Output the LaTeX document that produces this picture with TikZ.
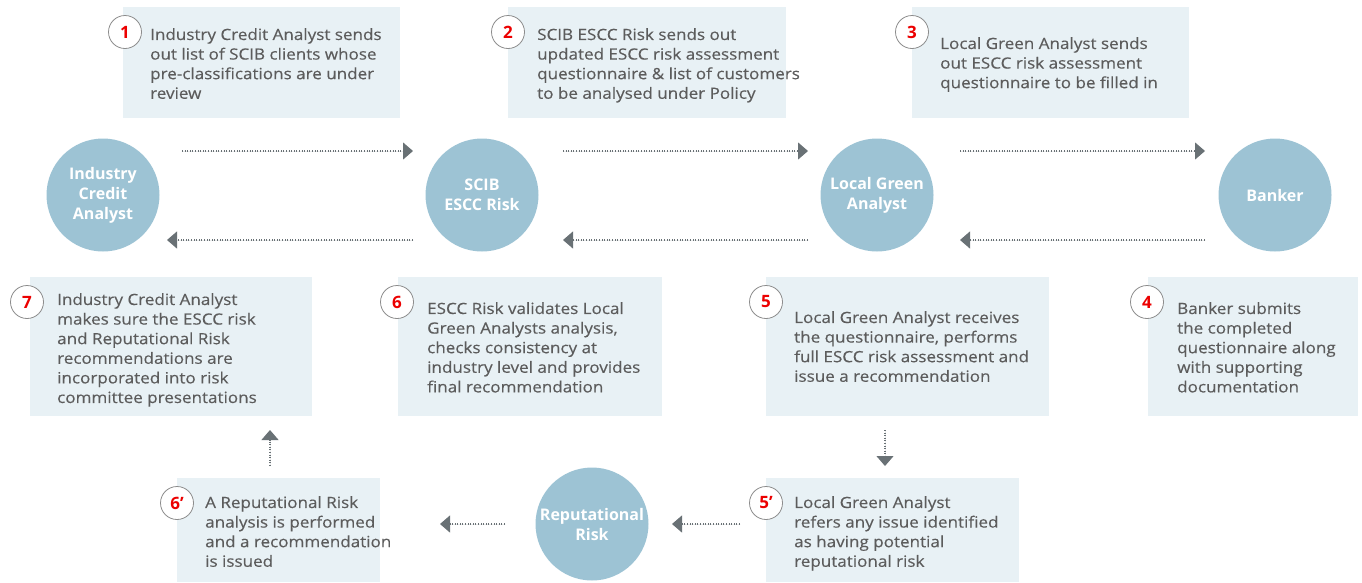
\documentclass[tikz,border=0pt]{standalone}
\usepackage{fontspec}
\setmainfont{Open Sans}
\newfontfamily\descfont{Open Sans}[FakeStretch=1.1,FakeBold=0.3]
\usetikzlibrary{arrows.meta}
\definecolor{boxfill}{RGB}{232,241,245}
\definecolor{actorfill}{RGB}{157,195,212}
\definecolor{txtgray}{RGB}{92,92,92}
\definecolor{ringgray}{RGB}{140,140,140}
\definecolor{stepred}{RGB}{236,0,0}
\definecolor{arrgray}{RGB}{105,113,117}
\tikzset{
  farrow/.style={-{Triangle[length=10pt,width=17pt]}, dash pattern=on 1pt off 1.6pt, line width=1.1pt, draw=arrgray, fill=arrgray},
  actor/.style={circle, fill=actorfill, minimum size=113pt, inner sep=0pt, text=white, align=center, font=\fontsize{16}{20}\selectfont\bfseries},
  panel/.style={fill=boxfill, inner sep=0pt, anchor=north west},
  stepno/.style={circle, fill=white, draw=ringgray, line width=0.8pt, minimum size=33pt, inner sep=0pt, text=stepred, font=\fontsize{17}{20}\selectfont\bfseries},
  desc/.style={anchor=north west, inner sep=0pt, align=left, text=txtgray, font=\descfont\fontsize{15.5}{19.6}\selectfont}
}

\begin{document}
\begin{tikzpicture}[x=1pt, y=-1pt]
    \useasboundingbox (0,0) rectangle (1362,582);

    % panels
    \node[panel, minimum width=277pt, minimum height=111pt] (p1) at (123,7) {};
    \node[panel, minimum width=278pt, minimum height=111pt] (p2) at (508,7) {};
    \node[panel, minimum width=277pt, minimum height=111pt] (p3) at (912,7) {};
    \node[panel, minimum width=282pt, minimum height=139pt] (p7) at (30,277) {};
    \node[panel, minimum width=264pt, minimum height=139pt] (p6) at (398,277) {};
    \node[panel, minimum width=283pt, minimum height=139pt] (p5) at (766,277) {};
    \node[panel, minimum width=210pt, minimum height=139pt] (p4) at (1148,277) {};
    \node[panel, minimum width=203pt, minimum height=104pt] (p6r) at (177,478) {};
    \node[panel, minimum width=253pt, minimum height=104pt] (p5r) at (766,478) {};

    % texts
    \node[desc] (t1) at (150,28) {Industry Credit Analyst sends\\out list of SCIB clients whose\\pre-classifications are under\\review};
    \node[desc] (t2) at (537,28) {SCIB ESCC Risk sends out\\updated ESCC risk assessment\\questionnaire \& list of customers\\to be analysed under Policy};
    \node[desc] (t3) at (940,37) {Local Green Analyst sends\\out ESCC risk assessment\\questionnaire to be filled in};
    \node[desc] (t7) at (57,293) {Industry Credit Analyst\\makes sure the ESCC risk\\and Reputational Risk\\recommendations are\\incorporated into risk\\committee presentations};
    \node[desc] (t6) at (427,302) {ESCC Risk validates Local\\Green Analysts analysis,\\checks consistency at\\industry level and provides\\final recommendation};
    \node[desc] (t5) at (794,311) {Local Green Analyst receives\\the questionnaire, performs\\full ESCC risk assessment and\\issue a recommendation};
    \node[desc] (t4) at (1177,302) {Banker submits\\the completed\\questionnaire along\\with supporting\\documentation};
    \node[desc] (t6r) at (205,496) {A Reputational Risk\\analysis is performed\\and a recommendation\\is issued};
    \node[desc] (t5r) at (794,496) {Local Green Analyst\\refers any issue identified\\as having potential\\reputational risk};

    % step numbers
    \node[stepno] (n1) at (125,32) {1};
    \node[stepno] (n2) at (508,32) {2};
    \node[stepno] (n3) at (912,32) {3};
    \node[stepno] (n7) at (27,302) {7};
    \node[stepno] (n6) at (397,302) {6};
    \node[stepno] (n5) at (766,302) {5};
    \node[stepno] (n4) at (1147,302) {4};
    \node[stepno] (n6r) at (177,503) {6’};
    \node[stepno] (n5r) at (766,503) {5’};

    % actors
    \node[actor] (ica) at (103,195) {Industry\\Credit\\Analyst};
    \node[actor] (scib) at (482,195) {SCIB\\ESCC Risk};
    \node[actor] (lga) at (877,195) {Local Green\\Analyst};
    \node[actor] (bnk) at (1275,195) {Banker};
    \node[actor] (rep) at (592,524) {Reputational\\Risk};

    % arrow ends
    \coordinate (ica-o) at (182,151);
    \coordinate (scib-i) at (413,151);
    \coordinate (scib-o) at (563,151);
    \coordinate (lga-i) at (808,151);
    \coordinate (lga-o) at (960,151);
    \coordinate (bnk-i) at (1205,151);
    \coordinate (bnk-b) at (1205,240);
    \coordinate (lga-b) at (960,240);
    \coordinate (lga-c) at (808,240);
    \coordinate (scib-b) at (563,240);
    \coordinate (scib-c) at (413,240);
    \coordinate (ica-b) at (167,240);
    \coordinate (p5-d) at (885,430);
    \coordinate (p5r-u) at (885,466);
    \coordinate (p5r-l) at (740,524);
    \coordinate (rep-r) at (672,524);
    \coordinate (rep-l) at (505,524);
    \coordinate (p6r-r) at (440,524);
    \coordinate (p6r-u) at (270,466);
    \coordinate (p7-d) at (270,430);

    \draw[farrow] (ica-o) -- (scib-i);
    \draw[farrow] (scib-o) -- (lga-i);
    \draw[farrow] (lga-o) -- (bnk-i);
    \draw[farrow] (bnk-b) -- (lga-b);
    \draw[farrow] (lga-c) -- (scib-b);
    \draw[farrow] (scib-c) -- (ica-b);
    \draw[farrow] (p5-d) -- (p5r-u);
    \draw[farrow] (p5r-l) -- (rep-r);
    \draw[farrow] (rep-l) -- (p6r-r);
    \draw[farrow] (p6r-u) -- (p7-d);
\end{tikzpicture}
\end{document}
